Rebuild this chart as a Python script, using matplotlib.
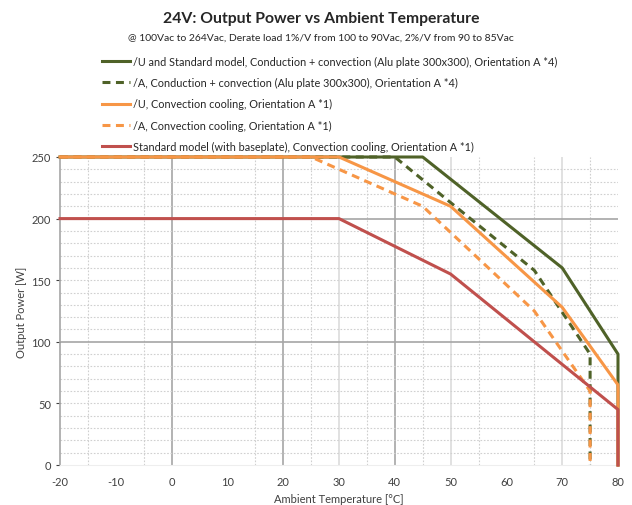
import matplotlib.pyplot as plt

# Derating curves: ambient temperature [°C] vs output power [W]
temp_u_cond = [-20, 45, 70, 80, 80]
power_u_cond = [250, 250, 160, 90, 0]
temp_a_cond = [-20, 40, 50, 65, 75, 75]
power_a_cond = [250, 250, 213, 158, 90, 0]
temp_u_conv = [-20, 30, 50, 70, 80, 80]
power_u_conv = [250, 250, 210, 128, 65, 0]
temp_a_conv = [-20, 25, 45, 65, 75, 75]
power_a_conv = [250, 250, 210, 125, 60, 0]
temp_std = [-20, 30, 50, 80, 80]
power_std = [200, 200, 155, 45, 0]

labels = [
    '/U and Standard model, Conduction + convection (Alu plate 300x300), Orientation A *4)',
    '/A, Conduction + convection (Alu plate 300x300), Orientation A *4)',
    '/U, Convection cooling, Orientation A *1)',
    '/A, Convection cooling, Orientation A *1)',
    'Standard model (with baseplate), Convection cooling, Orientation A *1)',
]
x_ticks = [-20, -10, 0, 10, 20, 30, 40, 50, 60, 70, 80]
y_ticks = [0, 50, 100, 150, 200, 250]

plt.rcParams['font.family'] = ['Lato', 'DejaVu Sans']
plt.rcParams['axes.unicode_minus'] = False

green = '#4f6228'
orange = '#f79646'
red = '#c0504d'

fig = plt.figure(figsize=(6.32, 5.06), dpi=100)
ax = fig.add_axes([60 / 632, 1 - 466 / 506, 558 / 632, 308 / 506])

# grid (Excel style: dark majors, light solids, dotted minors)
for x in [0, 20, 40]:
    ax.axvline(x, color='#a6a6a6', lw=1.2, zorder=1)
for x in [30, 50, 70]:
    ax.axvline(x, color='#dcdcdc', lw=1.2, zorder=1)
for x in [-15, -5, 15, 25, 35, 45, 55, 65, 75]:
    ax.axvline(x, color='#cfcfcf', lw=0.8, ls=(0, (1.5, 1.5)), zorder=1)
for y in range(10, 250, 10):
    if y in (100, 200):
        ax.axhline(y, color='#a6a6a6', lw=1.2, zorder=1)
    else:
        ax.axhline(y, color='#d0d0d0', lw=0.8, ls=(0, (1.5, 1.5)), zorder=1)

lw = 2.2
dash = (0, (2.6, 1.8))
ax.plot(temp_u_cond, power_u_cond, color=green, lw=lw, label=labels[0], clip_on=False, zorder=3)
ax.plot(temp_a_cond, power_a_cond, color=green, lw=lw, ls=dash, label=labels[1], clip_on=False, zorder=3)
ax.plot(temp_u_conv, power_u_conv, color=orange, lw=lw, label=labels[2], clip_on=False, zorder=3)
ax.plot(temp_a_conv, power_a_conv, color=orange, lw=lw, ls=dash, label=labels[3], clip_on=False, zorder=3)
ax.plot(temp_std, power_std, color=red, lw=lw, label=labels[4], clip_on=False, zorder=3)

ax.set_xlim(-20, 80)
ax.set_ylim(0, 250)
ax.set_xticks(x_ticks)
ax.set_yticks(y_ticks)
ax.tick_params(labelsize=8, colors='#404040', length=3, width=0.8)
ax.tick_params(axis='x', length=0, pad=8)
for s in ['top', 'right']:
    ax.spines[s].set_visible(False)
ax.spines['left'].set_color('#a6a6a6')
ax.spines['left'].set_linewidth(1.2)
ax.spines['bottom'].set_color('#eeeeee')

ax.set_xlabel('Ambient Temperature [°C]', fontsize=8, color='#404040', labelpad=4)
ax.set_ylabel('Output Power [W]', fontsize=8, color='#404040', labelpad=3)

fig.text(0.508, 0.963, '24V: Output Power vs Ambient Temperature', ha='center', va='center',
         fontsize=11.3, fontweight='bold', color='#262626')
fig.text(0.508, 0.925, '@ 100Vac to 264Vac, Derate load 1%/V from 100 to 90Vac, 2%/V from 90 to 85Vac',
         ha='center', va='center', fontsize=7.5, color='#262626')

ax.legend(loc='upper left', bbox_to_anchor=(92 / 632, 1 - 47 / 506), bbox_transform=fig.transFigure,
          frameon=False, fontsize=7.8, handlelength=2.6, handletextpad=0.3, labelspacing=0.95,
          labelcolor='#262626')

fig.savefig('out.png', dpi=100)
